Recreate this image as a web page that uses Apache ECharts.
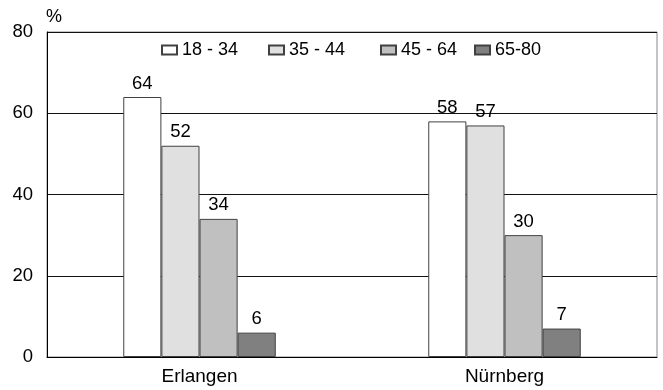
<!DOCTYPE html>
<html>
<head>
<meta charset="utf-8">
<script src="https://cdn.jsdelivr.net/npm/echarts@6/dist/echarts.min.js"></script>
<style>
  html, body { margin: 0; padding: 0; background: #fff; }
  #chart { width: 663px; height: 390px; }
</style>
</head>
<body>
<div id="chart"></div>
<script>
// Share of respondents by age group, per city (%)
const cities = ['Erlangen', 'Nürnberg'];
const ageGroups = ['18 - 34', '35 - 44', '45 - 64', '65-80'];
const values18to34 = [64, 58];
const values35to44 = [52, 57];
const values45to64 = [34, 30];
const values65to80 = [6, 7];
const yTicks = [0, 20, 40, 60, 80];

const seriesValues = [values18to34, values35to44, values45to64, values65to80];
const fills = ['#ffffff', '#e0e0e0', '#c0c0c0', '#808080'];
const legendLefts = [156, 263, 375, 469];
const font = 'Liberation Sans, Arial, sans-serif';

const chart = echarts.init(document.getElementById('chart'));

chart.setOption({
  animation: false,
  textStyle: { fontFamily: font },
  grid: {
    left: 47, right: 6, top: 32, bottom: 33,
    show: true, borderColor: '#888', borderWidth: 1
  },
  legend: ageGroups.map((name, i) => ({
    data: [{ name: name, icon: 'rect' }],
    left: legendLefts[i],
    top: 36,
    itemWidth: 15,
    itemHeight: 9,
    itemGap: 0,
    textStyle: { fontSize: 18, color: '#000', fontFamily: font },
    selectedMode: false
  })),
  xAxis: {
    type: 'category',
    data: cities,
    axisLine: { lineStyle: { color: '#000', width: 1 } },
    axisTick: { show: false },
    axisLabel: { fontSize: 19, color: '#000', margin: 10 }
  },
  yAxis: {
    type: 'value',
    name: '%',
    nameLocation: 'end',
    nameGap: 6,
    nameTextStyle: { fontSize: 18, color: '#000', align: 'left', padding: [0, 0, 0, -1] },
    min: yTicks[0],
    max: yTicks[yTicks.length - 1],
    interval: 20,
    axisLine: { show: true, lineStyle: { color: '#000', width: 1 } },
    axisTick: { show: false },
    axisLabel: { fontSize: 18.5, color: '#000', margin: 14, padding: [3, 0, 0, 0] },
    splitLine: { lineStyle: { color: '#111', width: 1 } }
  },
  series: ageGroups.map((name, i) => ({
    name: name,
    type: 'bar',
    data: seriesValues[i],
    barGap: '0%',
    barCategoryGap: '50%',
    itemStyle: { color: fills[i], borderColor: '#404040', borderWidth: 1 },
    label: {
      show: true, position: 'top', distance: 4,
      fontSize: 18.5, color: '#000', fontFamily: font
    }
  }))
});
</script>
</body>
</html>
